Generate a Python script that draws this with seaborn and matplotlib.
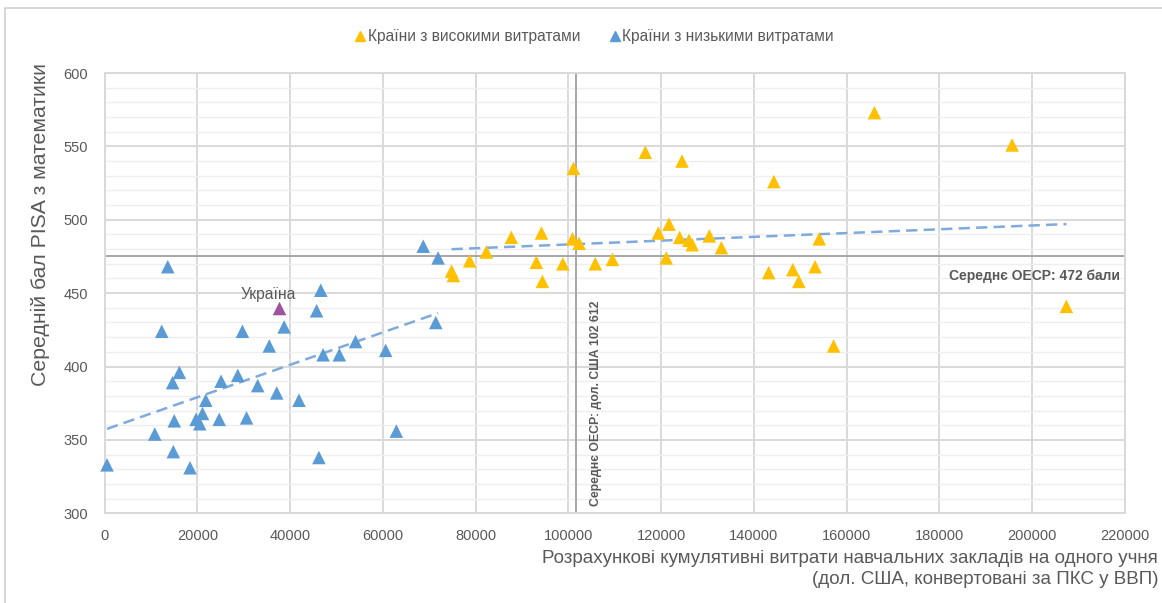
import numpy as np
import pandas as pd
import matplotlib.pyplot as plt
import seaborn as sns
from matplotlib.ticker import MultipleLocator
from matplotlib.lines import Line2D
from matplotlib.patches import Rectangle

# ==========================================
# Data
# ==========================================
low_x = [500, 10800, 12300, 13600, 14650, 15000, 14800, 16100, 18400, 19700,
         20500, 21100, 21800, 24700, 25100, 28700, 29700, 30600, 33000, 35500,
         37100, 38700, 41900, 45700, 46200, 46600, 47100, 50600, 54100, 60600,
         62900, 68700, 71400, 71900]
low_y = [333, 354, 424, 468, 389, 363, 342, 396, 331, 364,
         361, 368, 377, 364, 390, 394, 424, 365, 387, 414,
         382, 427, 377, 438, 338, 452, 408, 408, 417, 411,
         356, 482, 430, 474]

high_x = [74800, 75200, 78700, 82300, 87700, 93100, 94200, 94400, 98800, 100900,
          101100, 102300, 105800, 109500, 116600, 119400, 121100, 121700, 124000, 124500,
          126000, 126700, 130400, 133000, 143200, 144300, 148400, 149700, 153200, 154100,
          157200, 166000, 195700, 207400]
high_y = [465, 462, 472, 478, 488, 471, 491, 458, 470, 487,
          535, 484, 470, 473, 546, 491, 474, 497, 488, 540,
          486, 483, 489, 481, 464, 526, 466, 458, 468, 487,
          414, 573, 551, 441]

ukraine_x = 37600
ukraine_y = 440

oecd_score = 475        # position of the OECD mean line (label says 472)
oecd_spend = 101700     # position of the OECD spending line

x_ticks = list(range(0, 220001, 20000))
y_ticks = list(range(300, 601, 50))

labels = {
    "high": "Країни з високими витратами",
    "low": "Країни з низькими витратами",
}

df = pd.DataFrame({
    "x": low_x + high_x,
    "y": low_y + high_y,
    "group": ["low"] * len(low_x) + ["high"] * len(high_x),
})

# ==========================================
# Style
# ==========================================
sns.set_theme(style="white")
plt.rcParams["font.family"] = ["Liberation Sans", "DejaVu Sans"]

yellow = "#ffc000"
blue = "#5b9bd5"
purple = "#a0529f"
trend = "#7eaadc"
txt = "#595959"
grid = "#d9d9d9"

fig = plt.figure(figsize=(11.62, 6.03), dpi=100)
ax = fig.add_axes([0.0901, 0.1488, 0.968 - 0.0901, 0.8789 - 0.1488])

# light frame around the whole chart
fig.patches.append(Rectangle((5 / 1162, -0.1), 1.2, 0.1 + (1 - 8 / 603),
                             transform=fig.transFigure, fill=False,
                             edgecolor="#d0d0d0", lw=1.2))

# ==========================================
# Grid & axes
# ==========================================
ax.set_xlim(0, 220000)
ax.set_ylim(300, 600)
ax.set_xticks(x_ticks)
ax.set_yticks(y_ticks)
ax.yaxis.set_minor_locator(MultipleLocator(10))
ax.set_axisbelow(True)
ax.grid(which="major", color=grid, lw=1.4)
ax.grid(which="minor", axis="y", color="#eeeeee", lw=1.0)
for s in ax.spines.values():
    s.set_color(grid)
    s.set_linewidth(1.4)
ax.tick_params(which="both", length=0, labelsize=10.5, labelcolor=txt)
ax.tick_params(axis="y", pad=12)
ax.tick_params(axis="x", pad=11)

# OECD reference lines
ax.axhline(oecd_score, color="#a6a6a6", lw=1.4, zorder=1)
ax.axvline(oecd_spend, color="#a6a6a6", lw=1.4, zorder=1)

# ==========================================
# Trend lines (linear fit per group)
# ==========================================
for g in ["low", "high"]:
    sns.regplot(data=df[df.group == g], x="x", y="y", ax=ax, scatter=False,
                ci=None, truncate=True,
                line_kws={"color": trend, "lw": 1.8, "ls": (0, (4.5, 2.5)), "zorder": 2})

# ==========================================
# Points
# ==========================================
sns.scatterplot(data=df, x="x", y="y", hue="group",
                palette={"low": blue, "high": yellow},
                marker="^", s=95, linewidth=0, ax=ax, legend=False, zorder=3,
                clip_on=False)
ax.scatter([ukraine_x], [ukraine_y], marker="^", s=95, color=purple,
           linewidth=0, zorder=3)
ax.text(ukraine_x - 2300, ukraine_y + 4, "Україна", ha="center", va="bottom",
        fontsize=11.3, color=txt)

ax.set_xlabel("")
ax.set_ylabel("")

# ==========================================
# Annotations
# ==========================================
ax.text(219000, 461.5, "Середнє ОЕСР: 472 бали", ha="right",
        va="center", fontsize=10, fontweight="bold", color=txt)
ax.text(oecd_spend + 4300, 305, "Середнє ОЕСР: дол. США 102 612",
        rotation=90, ha="center", va="bottom", fontsize=8.8,
        fontweight="bold", color=txt)

fig.text(40 / 1162, 1 - 225 / 603, "Середній бал PISA з математики",
         rotation=90, ha="center", va="center", fontsize=15.3, color=txt)
fig.text(1158 / 1162, 1 - 569 / 603,
         "Розрахункові кумулятивні витрати навчальних закладів на одного учня\n"
         "(дол. США, конвертовані за ПКС у ВВП)",
         ha="right", va="center", multialignment="right",
         fontsize=13.5, color=txt, linespacing=1.3)

# ==========================================
# Legend
# ==========================================
handles = [
    Line2D([], [], marker="^", ls="", color=yellow, markersize=7, label=labels["high"]),
    Line2D([], [], marker="^", ls="", color=blue, markersize=7, label=labels["low"]),
]
fig.legend(handles=handles, loc="center", bbox_to_anchor=(594 / 1162, 1 - 37 / 603),
           ncol=2, frameon=False, fontsize=11.2, handletextpad=0.1,
           columnspacing=1.8, handlelength=0.8, labelcolor=txt)

fig.savefig("out.png", dpi=100)
